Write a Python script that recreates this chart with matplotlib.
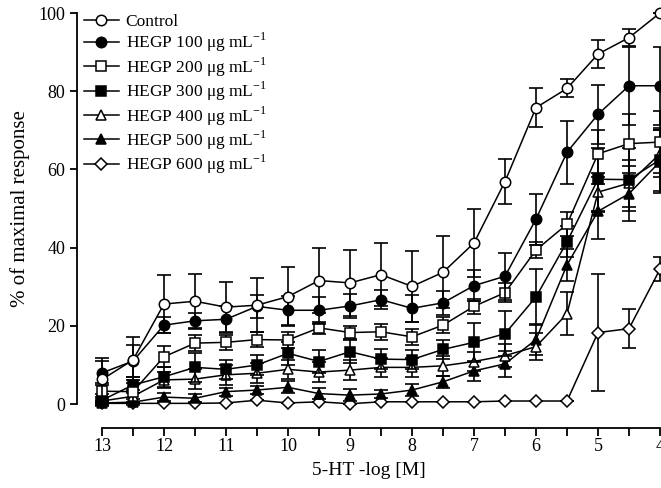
import numpy as np
import matplotlib
matplotlib.use('Agg')
import matplotlib.pyplot as plt
from matplotlib.ticker import MultipleLocator

# 5-HT concentration (-log M)
conc = [13, 12.5, 12, 11.5, 11, 10.5, 10, 9.5, 9, 8.5, 8, 7.5, 7, 6.5, 6, 5.5, 5, 4.5, 4]

control = [6.3, 11.3, 25.6, 26.3, 24.8, 25.3, 27.5, 31.6, 31.0, 33.1, 30.1, 33.7, 41.2, 56.9, 75.8, 80.7, 89.5, 93.7, 100.0]
control_sem = [5.5, 5.8, 7.4, 6.9, 6.4, 6.9, 7.6, 8.2, 8.4, 8.0, 9.0, 9.2, 8.7, 5.8, 5.0, 2.3, 3.5, 2.2, 0.0]

hegp100 = [8.0, 11.0, 20.2, 21.3, 21.7, 25.0, 24.0, 24.0, 25.1, 26.7, 24.5, 25.9, 30.3, 32.7, 47.3, 64.4, 74.1, 81.4, 81.4]
hegp100_sem = [3.0, 4.0, 2.0, 2.0, 3.5, 3.0, 3.7, 3.5, 3.0, 2.5, 3.5, 3.0, 4.0, 6.0, 6.5, 8.0, 7.5, 10.0, 10.0]

hegp200 = [3.3, 3.2, 12.1, 15.6, 15.8, 16.5, 16.4, 19.5, 18.3, 18.5, 17.2, 20.2, 25.0, 28.5, 39.4, 46.0, 64.0, 66.6, 67.0]
hegp200_sem = [2.0, 3.0, 2.7, 2.0, 2.0, 2.0, 2.0, 1.5, 1.7, 2.0, 2.0, 2.0, 2.0, 2.5, 2.0, 3.0, 6.0, 7.5, 8.0]

hegp300 = [1.0, 4.9, 7.0, 9.4, 8.9, 10.0, 13.0, 10.9, 13.4, 11.5, 11.4, 14.0, 15.8, 18.0, 27.4, 41.5, 57.5, 57.4, 62.5]
hegp300_sem = [1.5, 2.0, 2.5, 3.8, 2.5, 2.5, 3.0, 3.0, 3.0, 2.5, 2.5, 2.5, 5.0, 5.7, 7.2, 4.0, 8.0, 8.0, 8.0]

hegp400 = [0.8, 2.0, 6.2, 6.4, 7.5, 7.9, 8.9, 8.2, 8.7, 9.4, 9.4, 9.8, 10.9, 12.4, 14.7, 23.1, 54.2, 56.5, 64.0]
hegp400_sem = [1.0, 1.5, 2.0, 2.5, 2.5, 2.5, 2.5, 2.5, 2.5, 2.5, 2.5, 2.5, 2.5, 3.0, 3.5, 5.5, 5.0, 6.0, 6.0]

hegp500 = [0.3, 0.5, 1.8, 1.5, 3.2, 3.6, 4.3, 2.7, 2.3, 2.6, 3.6, 5.7, 8.5, 10.3, 16.5, 35.6, 49.3, 53.8, 62.0]
hegp500_sem = [0.5, 0.8, 1.0, 1.0, 1.0, 1.0, 1.5, 1.5, 1.5, 1.0, 1.5, 1.5, 2.5, 3.3, 4.0, 4.0, 7.0, 7.0, 8.0]

hegp600 = [0.2, 0.2, 0.2, 0.2, 0.3, 1.0, 0.3, 0.6, 0.1, 0.6, 0.6, 0.6, 0.6, 0.8, 0.8, 0.8, 18.3, 19.3, 34.5]
hegp600_sem = [0, 0, 0, 0, 0, 0, 0, 0, 0, 0, 0, 0, 0, 0, 0, 0, 15.0, 5.0, 3.0]

labels = ['Control',
          r'HEGP 100 μg mL$^{-1}$',
          r'HEGP 200 μg mL$^{-1}$',
          r'HEGP 300 μg mL$^{-1}$',
          r'HEGP 400 μg mL$^{-1}$',
          r'HEGP 500 μg mL$^{-1}$',
          r'HEGP 600 μg mL$^{-1}$']

plt.rcParams['font.family'] = ['Liberation Serif', 'DejaVu Serif']
plt.rcParams['mathtext.fontset'] = 'custom'
plt.rcParams['mathtext.rm'] = 'Liberation Serif'


def plot_curves():
    fig = plt.figure(figsize=(6.61, 4.88), dpi=100)
    # x spine at y=428 px, 100 % at y=13 px
    ax = fig.add_axes([77 / 661, 60 / 488, 583 / 661, 415 / 488])

    series = [
        (control, control_sem, 'o', 'white', 7.5),
        (hegp100, hegp100_sem, 'o', 'black', 7.5),
        (hegp200, hegp200_sem, 's', 'white', 7),
        (hegp300, hegp300_sem, 's', 'black', 7),
        (hegp400, hegp400_sem, '^', 'white', 7.5),
        (hegp500, hegp500_sem, '^', 'black', 7.5),
        (hegp600, hegp600_sem, 'D', 'white', 6),
    ]

    for i, (y, err, marker, face, ms) in enumerate(series):
        z = 20 - 2 * i
        ax.errorbar(conc, y, yerr=err, fmt='none', ecolor='black',
                    elinewidth=1.2, capsize=5, capthick=1.2, zorder=z, clip_on=False)
        ax.plot(conc, y, marker=marker, color='black', markerfacecolor=face,
                markeredgecolor='black', markeredgewidth=1.1, markersize=ms,
                linewidth=1.1, label=labels[i], zorder=z + 1, clip_on=False)

    ax.set_xlim(13.403, 4.0)
    ax.set_ylim(-6.1, 100)
    ax.xaxis.set_major_locator(MultipleLocator(1))
    ax.xaxis.set_minor_locator(MultipleLocator(0.5))
    ax.set_yticks([0, 20, 40, 60, 80, 100])
    ax.spines['top'].set_visible(False)
    ax.spines['right'].set_visible(False)
    ax.spines['left'].set_bounds(0, 100)
    ax.spines['bottom'].set_bounds(13, 4)
    ax.spines['left'].set_linewidth(1.3)
    ax.spines['bottom'].set_linewidth(1.3)
    ax.tick_params(axis='both', which='both', direction='out', length=5,
                   width=1.3, labelsize=13)
    ax.tick_params(axis='x', which='both', length=6, pad=1.5)

    ax.set_xlabel('5-HT -log [M]', fontsize=14, labelpad=5)
    ax.set_ylabel('% of maximal response', fontsize=15, labelpad=5)
    ax.yaxis.set_label_coords(-0.08, (50 + 6.1) / 106.1)

    ax.legend(loc='upper left', bbox_to_anchor=(84 / 661, 1 - 14 / 488),
              bbox_transform=fig.transFigure, frameon=False, fontsize=12.5,
              handlelength=2.0, handletextpad=0.4, labelspacing=0.06,
              borderpad=0, borderaxespad=0)

    fig.savefig('out.png', dpi=100)


def main():
    plot_curves()


if __name__ == "__main__":
    main()
